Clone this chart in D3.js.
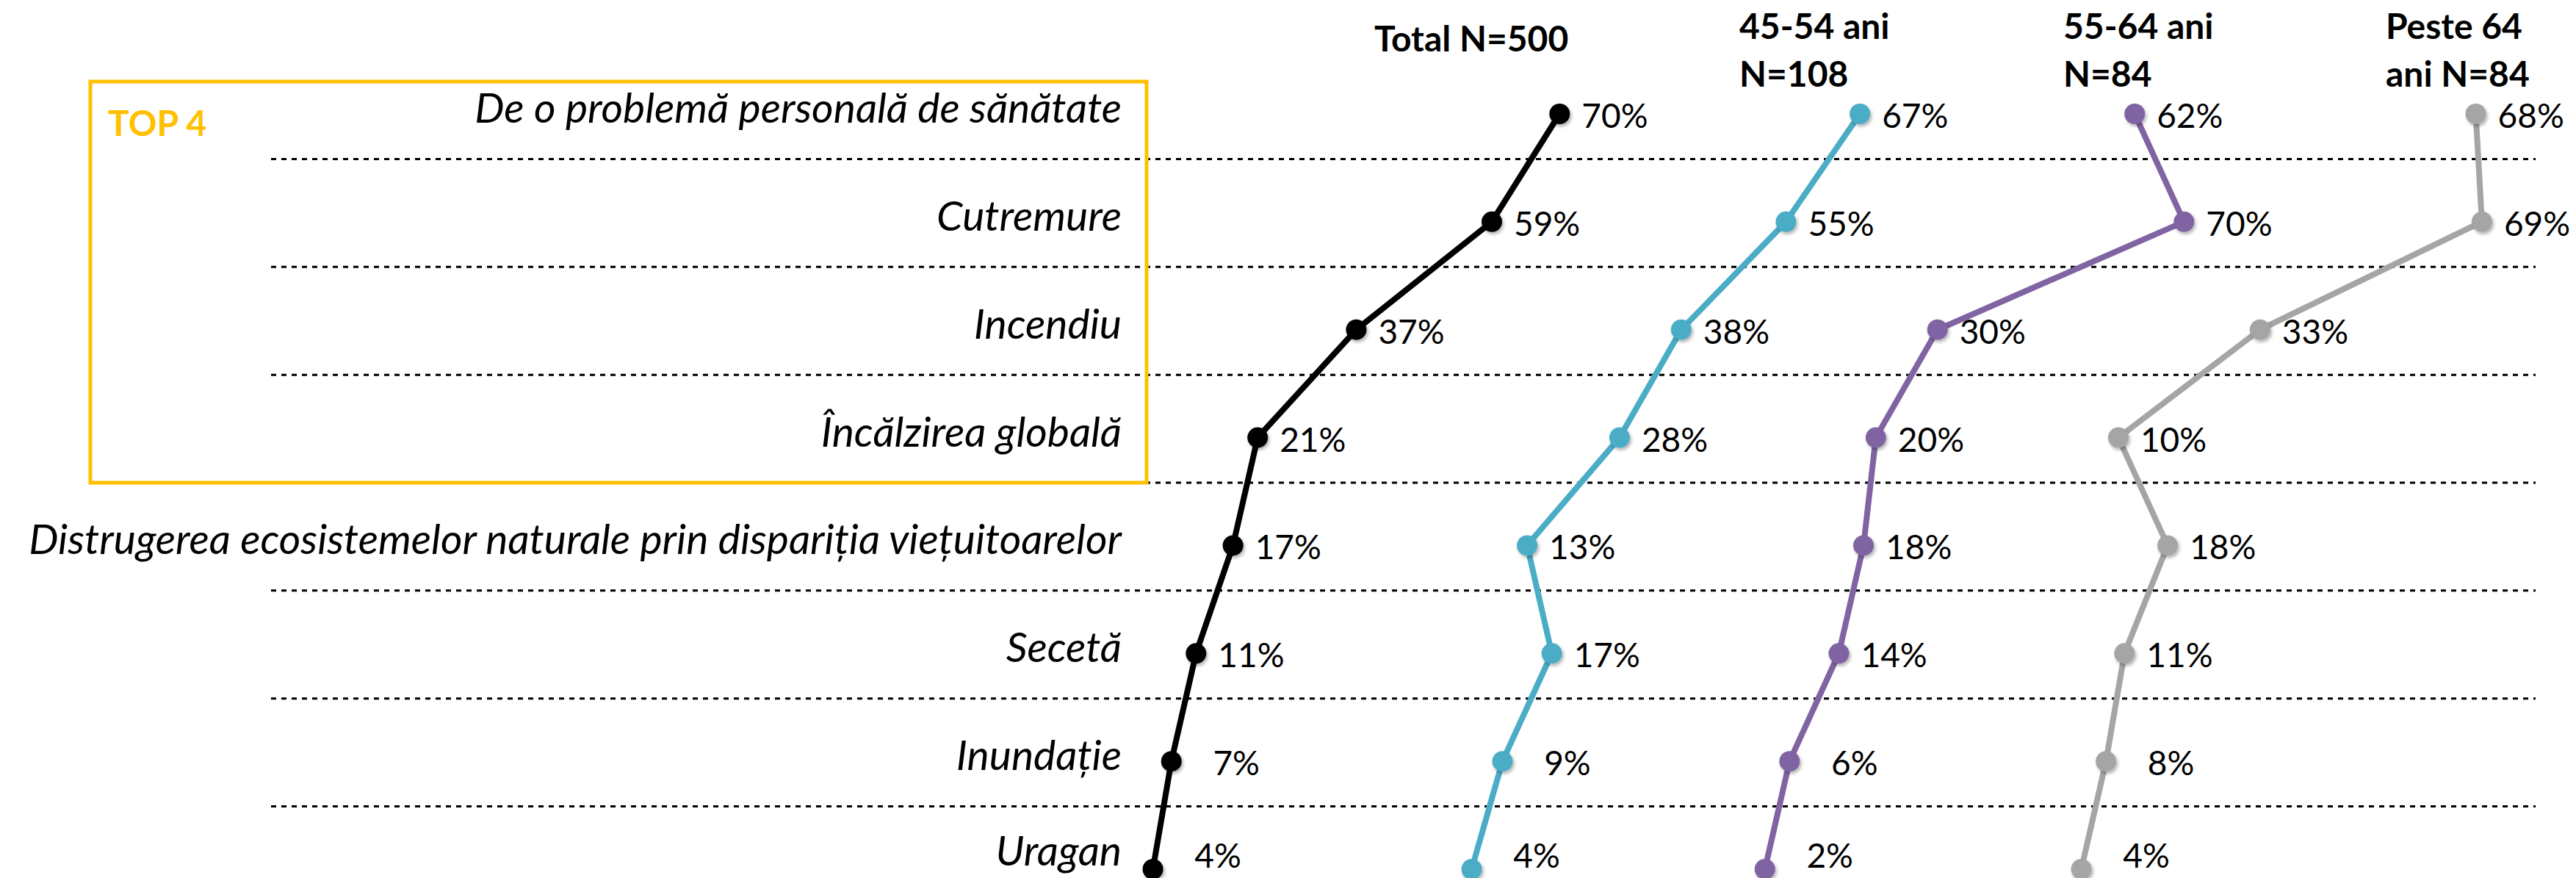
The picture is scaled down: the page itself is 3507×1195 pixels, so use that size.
<!DOCTYPE html>
<html>
<head>
<meta charset="utf-8">
<script src="https://cdn.jsdelivr.net/npm/d3@7"></script>
<style>
  body { margin: 0; background: #fff; }
  text { font-family: Lato, "Open Sans", sans-serif; }
</style>
</head>
<body>
<div id="main"></div>
<script>
// data
const categories = [
    'De o problemă personală de sănătate',
    'Cutremure',
    'Incendiu',
    'Încălzirea globală',
    'Distrugerea ecosistemelor naturale prin dispariția viețuitoarelor',
    'Secetă',
    'Inundație',
    'Uragan'
];
const totalValues = [70, 59, 37, 21, 17, 11, 7, 4];
const age4554Values = [67, 55, 38, 28, 13, 17, 9, 4];
const age5564Values = [62, 70, 30, 20, 18, 14, 6, 2];
const ageOver64Values = [68, 69, 33, 10, 18, 11, 8, 4];
const headerLines = [
    ['Total N=500'],
    ['45-54 ani', 'N=108'],
    ['55-64 ani', 'N=84'],
    ['Peste 64', 'ani N=84']
];
const seriesColors = ['#000000', '#4BACC6', '#8064A2', '#A5A5A5'];
const topLabel = 'TOP 4';
const topCount = 4;

// layout
const svgWidth = 3507;
const svgHeight = 1195;
const colOffsets = [1536, 1970, 2386, 2800];
const headerX = [1871, 2368, 2809, 3248];
const labelRight = 1527;
const gridLeft = 369;
const gridRight = 3452;

const series = [totalValues, age4554Values, age5564Values, ageOver64Values];

const svg = d3.select('#main')
    .append('svg')
    .attr('width', svgWidth)
    .attr('height', svgHeight);

svg.append('rect').attr('width', svgWidth).attr('height', svgHeight).attr('fill', '#fff');

const defs = svg.append('defs');
defs.append('filter')
    .attr('id', 'shadow')
    .attr('x', '-50%').attr('y', '-50%').attr('width', '200%').attr('height', '200%')
    .append('feDropShadow')
    .attr('dx', 2).attr('dy', 3)
    .attr('stdDeviation', 2)
    .attr('flood-color', '#000')
    .attr('flood-opacity', 0.3);

const xScale = d3.scaleLinear().domain([0, 100]).range([0, 839]);
const yScale = d3.scalePoint().domain(categories).range([155, 1183]);
const step = yScale.step();

// dashed separators between rows
const separators = categories.slice(0, -1).map(c => yScale(c) + step / 2 - 12);
svg.selectAll('line.sep')
    .data(separators)
    .enter()
    .append('line')
    .attr('class', 'sep')
    .attr('x1', gridLeft)
    .attr('x2', gridRight)
    .attr('y1', d => d)
    .attr('y2', d => d)
    .attr('stroke', '#000')
    .attr('stroke-width', 3)
    .attr('stroke-dasharray', '7 7');

// top 4 box
const boxTop = yScale(categories[0]) - 44;
const boxBottom = separators[topCount - 1];
svg.append('rect')
    .attr('x', 123)
    .attr('y', boxTop)
    .attr('width', 1561 - 123)
    .attr('height', boxBottom - boxTop)
    .attr('fill', 'none')
    .attr('stroke', '#FFC000')
    .attr('stroke-width', 5);

svg.append('text')
    .attr('x', 147)
    .attr('y', 185)
    .attr('font-size', 48)
    .attr('font-weight', 'bold')
    .attr('fill', '#FFC000')
    .text(topLabel);

// category labels (kept inside the picture at the bottom)
svg.selectAll('text.cat')
    .data(categories)
    .enter()
    .append('text')
    .attr('class', 'cat')
    .attr('x', labelRight)
    .attr('y', d => Math.min(yScale(d) + 12, svgHeight - 17))
    .attr('text-anchor', 'end')
    .attr('font-size', 57)
    .attr('font-style', 'italic')
    .attr('fill', '#000')
    .text(d => d);

// headers
headerLines.forEach((lines, i) => {
    const t = svg.append('text')
        .attr('x', headerX[i])
        .attr('y', lines.length === 1 ? 70 : 53)
        .attr('font-size', 48)
        .attr('font-weight', 'bold')
        .attr('fill', '#000');
    lines.forEach((line, j) => {
        t.append('tspan')
            .attr('x', headerX[i])
            .attr('dy', j === 0 ? 0 : 65)
            .text(line);
    });
});

// measure a two-digit label so single digits right-align with it
const probe = svg.append('text').attr('font-size', 46).text('00%');
const labelWidth = probe.node().getComputedTextLength();
probe.remove();

const line = d3.line()
    .x(d => d.x)
    .y(d => d.y);

series.forEach((values, i) => {
    const pts = values.map((v, k) => ({
        x: colOffsets[i] + xScale(v),
        y: yScale(categories[k]),
        v: v
    }));
    const g = svg.append('g');

    g.append('path')
        .datum(pts)
        .attr('fill', 'none')
        .attr('stroke', seriesColors[i])
        .attr('stroke-width', 8)
        .attr('stroke-linejoin', 'round')
        .attr('d', line);

    g.selectAll('circle')
        .data(pts)
        .enter()
        .append('circle')
        .attr('cx', d => d.x)
        .attr('cy', d => d.y)
        .attr('r', 14)
        .attr('fill', seriesColors[i])
        .attr('filter', 'url(#shadow)');

    g.selectAll('text')
        .data(pts)
        .enter()
        .append('text')
        .attr('x', d => d.x + 30 + labelWidth)
        .attr('y', d => Math.min(d.y + 19, svgHeight - 14))
        .attr('text-anchor', 'end')
        .attr('font-size', 46)
        .attr('fill', '#000')
        .text(d => d.v + '%');
});
</script>
</body>
</html>
